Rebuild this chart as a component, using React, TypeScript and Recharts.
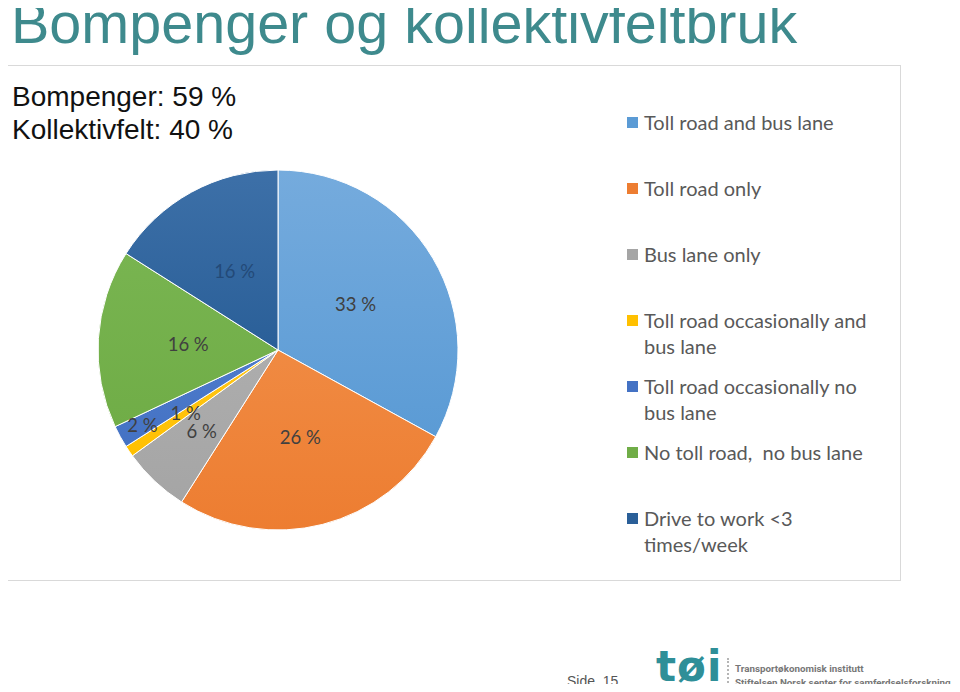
import React from 'react';
import { PieChart, Pie, Cell, Legend } from 'recharts';

const categories = [
  'Toll road and bus lane',
  'Toll road only',
  'Bus lane only',
  'Toll road occasionally and bus lane',
  'Toll road occasionally no bus lane',
  'No toll road,  no bus lane',
  'Drive to work <3 times/week',
];
const shares = [33, 26, 6, 1, 2, 16, 16];
const colors = ['#5B9BD5', '#ED7D31', '#A5A5A5', '#FFC000', '#4472C4', '#70AD47', '#2A5F98'];
const lightColors = ['#75ABDD', '#F08A42', '#ADADAD', '#FFC61A', '#4E7BCB', '#78B450', '#3D70A8'];

const title = 'Bompenger og kollektivfeltbruk';
const subtitleLines = ['Bompenger: 59 %', 'Kollektivfelt: 40 %'];

const data = categories.map((name, i) => ({ name, value: shares[i] }));

const RADIAN = Math.PI / 180;
const FONT = 'Lato, "Open Sans", sans-serif';

// small slices get their labels pushed out, like Excel does
const labelRadiusFactor = (index: number) => {
  if (index === 4) return 0.86;
  if (index === 2 || index === 3) return 0.62;
  return 0.5;
};

const renderLabel = (props: any) => {
  const { cx, cy, midAngle, outerRadius, index, value } = props;
  const r = outerRadius * labelRadiusFactor(index);
  const x = cx + r * Math.cos(-midAngle * RADIAN);
  const y = cy + r * Math.sin(-midAngle * RADIAN);
  return (
    <text
      x={x}
      y={y}
      fill={index === 6 ? '#234a78' : '#404040'}
      textAnchor="middle"
      dominantBaseline="central"
      fontFamily={FONT}
      fontSize={18.5}
    >
      {`${value} %`}
    </text>
  );
};

const renderLegend = () => (
  <div style={{ width: 256 }}>
    {categories.map((name, i) => (
      <div key={name} style={{ display: 'flex', alignItems: 'flex-start', height: 66 }}>
        <div style={{ width: 11, height: 11, background: colors[i], marginTop: 8, marginRight: 6, flexShrink: 0 }} />
        <div
          style={{
            width: 238, fontFamily: FONT, fontSize: 20, lineHeight: '26px', color: '#595959', whiteSpace: 'pre-wrap',
          }}
        >
          {name}
        </div>
      </div>
    ))}
  </div>
);

export default function App() {
  return (
    <div style={{ position: 'relative', width: 960, height: 692, margin: -8, overflow: 'hidden', background: '#fff' }}>
      <div
        style={{
          position: 'absolute', left: 11, top: -10, fontFamily: '"Liberation Sans", Arial, sans-serif',
          fontSize: 57.5, color: '#3E8A8D', whiteSpace: 'nowrap', lineHeight: '66px',
        }}
      >
        {title}
      </div>
      <div
        style={{
          position: 'absolute', left: 2, top: 65, width: 897, height: 514,
          border: '1px solid #D9D9D9', background: '#fff',
        }}
      >
        <PieChart width={897} height={514} margin={{ top: 0, right: 0, bottom: 0, left: 0 }}>
          <defs>
            {colors.map((c, i) => (
              <linearGradient key={c} id={`grad${i}`} x1="0" y1="0" x2="0" y2="1">
                <stop offset="0%" stopColor={lightColors[i]} />
                <stop offset="100%" stopColor={c} />
              </linearGradient>
            ))}
          </defs>
          <Pie
            data={data}
            dataKey="value"
            nameKey="name"
            cx={275}
            cy={284}
            outerRadius={180}
            startAngle={90}
            endAngle={-270}
            stroke="#ffffff"
            strokeWidth={1}
            label={renderLabel}
            labelLine={false}
            isAnimationActive={false}
          >
            {data.map((d, i) => (
              <Cell key={d.name} fill={`url(#grad${i})`} />
            ))}
          </Pie>
          <Legend
            layout="vertical"
            content={renderLegend}
            wrapperStyle={{ left: 624, top: 43, width: 266 }}
          />
        </PieChart>
      </div>
      <div
        style={{
          position: 'absolute', left: 12, top: 80, fontFamily: '"Liberation Sans", Arial, sans-serif',
          fontSize: 28, lineHeight: '33px', color: '#111',
        }}
      >
        {subtitleLines.map((l) => (
          <div key={l}>{l}</div>
        ))}
      </div>
      <div
        style={{
          position: 'absolute', left: 567, top: 673, fontFamily: '"Liberation Sans", Arial, sans-serif',
          fontSize: 14, color: '#555',
        }}
      >
        Side&nbsp;&nbsp;15
      </div>
      <div
        style={{
          position: 'absolute', left: 656, top: 642, fontFamily: '"DejaVu Sans", sans-serif',
          fontWeight: 'bold', fontSize: 42, color: '#2F8F98', letterSpacing: 1,
        }}
      >
        tøi
      </div>
      <div style={{ position: 'absolute', left: 727, top: 658, height: 32, borderLeft: '2px dotted #b5b5b5' }} />
      <div
        style={{
          position: 'absolute', left: 735, top: 662, fontFamily: 'Roboto, sans-serif', fontWeight: 'bold',
          fontSize: 9.8, lineHeight: '14px', color: '#777', whiteSpace: 'nowrap',
        }}
      >
        <div>Transportøkonomisk institutt</div>
        <div>Stiftelsen Norsk senter for samferdselsforskning</div>
      </div>
    </div>
  );
}
